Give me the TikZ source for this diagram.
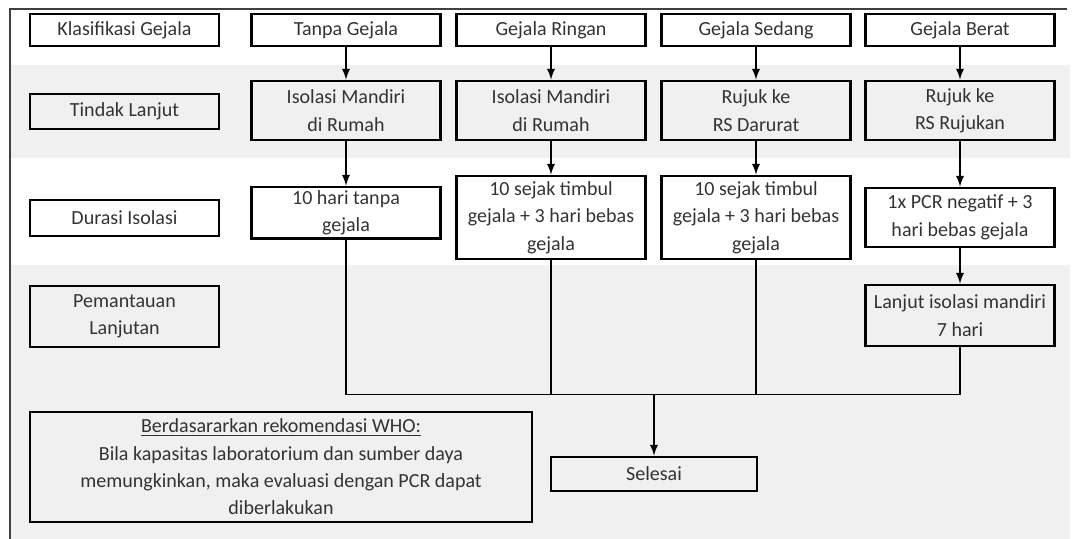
\documentclass[tikz,border=0pt]{standalone}
\usepackage{fontspec}
\setmainfont{Carlito}
\usepackage{tikz}
\definecolor{pita}{HTML}{F0F0F0}
\definecolor{teks}{HTML}{333333}
\tikzset{
  kotak/.style={draw, line width=1.6pt, text=teks, align=center, inner sep=2pt,
    minimum width=3.78cm, font=\fontsize{11.4}{15.6}\selectfont},
  panah/.style={-latex, line width=1.1pt},
  garis/.style={line width=1.1pt}
}

\begin{document}
\begin{tikzpicture}
\useasboundingbox (0,0) rectangle (21.44,10.78);
% latar
\fill[pita] (0.2,7.62) rectangle (21.4,9.48);
\fill[pita] (0.2,0) rectangle (21.4,5.48);
\draw[line width=1.2pt, black!75] (0.2,0) -- (0.2,10.6) -- (21.34,10.6);
% baris 1
\node[kotak, minimum height=0.64cm] (k1) at (2.49,10.18) {Klasifikasi Gejala};
\node[kotak, minimum height=0.64cm] (a1) at (6.92,10.18) {Tanpa Gejala};
\node[kotak, minimum height=0.64cm] (b1) at (11.02,10.18) {Gejala Ringan};
\node[kotak, minimum height=0.64cm] (c1) at (15.12,10.18) {Gejala Sedang};
\node[kotak, minimum height=0.64cm] (d1) at (19.2,10.18) {Gejala Berat};
% baris 2
\node[kotak, minimum height=0.7cm] (k2) at (2.49,8.55) {Tindak Lanjut};
\node[kotak, minimum height=1.18cm] (a2) at (6.92,8.57) {Isolasi Mandiri\\di Rumah};
\node[kotak, minimum height=1.18cm] (b2) at (11.02,8.57) {Isolasi Mandiri\\di Rumah};
\node[kotak, minimum height=1.18cm] (c2) at (15.12,8.57) {Rujuk ke\\RS Darurat};
\node[kotak, minimum height=1.18cm] (d2) at (19.2,8.57) {Rujuk ke\\RS Rujukan};
% baris 3
\node[kotak, minimum height=0.72cm] (k3) at (2.49,6.42) {Durasi Isolasi};
\node[kotak, minimum height=1.0cm] (a3) at (6.92,6.52) {10 hari tanpa\\gejala};
\node[kotak, minimum height=1.66cm] (b3) at (11.02,6.43) {10 sejak timbul\\gejala + 3 hari bebas\\gejala};
\node[kotak, minimum height=1.66cm] (c3) at (15.12,6.43) {10 sejak timbul\\gejala + 3 hari bebas\\gejala};
\node[kotak, minimum height=1.18cm] (d3) at (19.2,6.43) {1x PCR negatif + 3\\hari bebas gejala};
% baris 4
\node[kotak, minimum height=1.22cm] (k4) at (2.49,4.45) {Pemantauan\\Lanjutan};
\node[kotak, minimum height=1.22cm] (d4) at (19.2,4.47) {Lanjut isolasi mandiri\\7 hari};
\coordinate (m) at (13.08,2.89);
\node[kotak, minimum width=4.12cm, minimum height=0.68cm] (sel) at (13.08,1.30) {Selesai};
\node[kotak, minimum width=10.04cm, minimum height=2.2cm] (who) at (5.62,1.44) {\underline{Berdasararkan rekomendasi WHO:}\\Bila kapasitas laboratorium dan sumber daya\\memungkinkan, maka evaluasi dengan PCR dapat\\diberlakukan};
% panah
\draw[panah] (a1) -- (a2);
\draw[panah] (b1) -- (b2);
\draw[panah] (c1) -- (c2);
\draw[panah] (d1) -- (d2);
\draw[panah] (a2) -- (a3);
\draw[panah] (b2) -- (b3);
\draw[panah] (c2) -- (c3);
\draw[panah] (d2) -- (d3);
\draw[panah] (d3) -- (d4);
\draw[garis] (a3) |- (m) -| (d4);
\draw[garis] (b3) |- (m);
\draw[garis] (c3) |- (m);
\draw[panah] (m) -- (sel);
\end{tikzpicture}
\end{document}
